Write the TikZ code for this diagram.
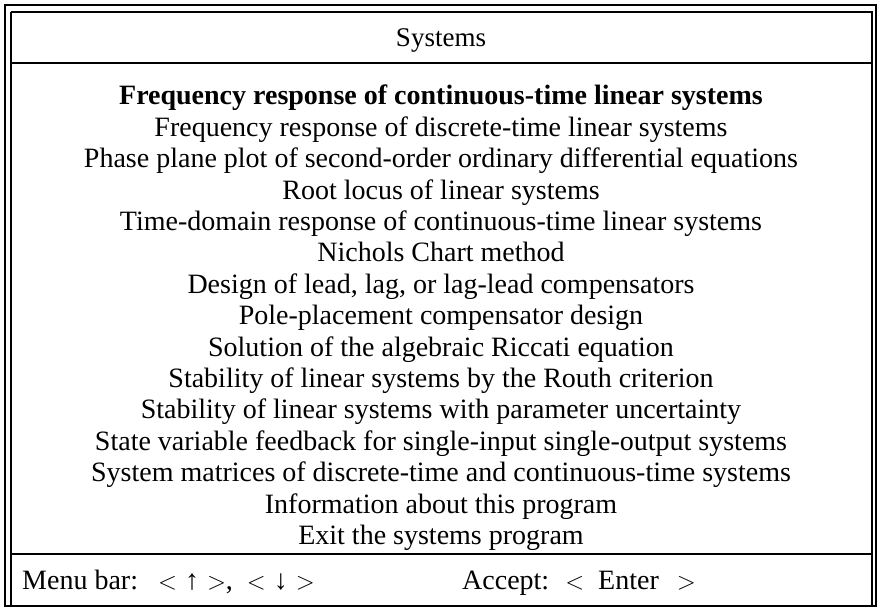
\documentclass[tikz,border=0pt]{standalone}
\usepackage{fontspec}
\setmainfont{Liberation Serif}
\begin{document}
\begin{tikzpicture}[x=1pt,y=-1pt,
  row/.style={anchor=base,inner sep=0pt,font=\fontsize{28}{30}\selectfont},
  frame/.style={draw=black,line width=1.3pt}]
\useasboundingbox (0,0) rectangle (879,609);
% frames
\draw[frame] (5,5) -- (876,5) -- (876,606) -- (5,606) -- cycle;
\draw[frame] (11,12) -- (872,12) -- (872,606);
\draw[frame] (11,12) -- (11,606);
\draw[frame] (11,63) -- (872,63);
\draw[frame] (11,554) -- (872,554);
% title
\node[row,font=\fontsize{27}{30}\selectfont] (title) at (441,47) {Systems};
% items
\node[row,font=\fontsize{28}{30}\selectfont\bfseries] (i1) at (441,105) {Frequency response of continuous-time linear systems};
\node[row] (i2) at (441,136.4) {Frequency response of discrete-time linear systems};
\node[row] (i3) at (441,167.8) {Phase plane plot of second-order ordinary differential equations};
\node[row] (i4) at (441,199.2) {Root locus of linear systems};
\node[row] (i5) at (441,230.6) {Time-domain response of continuous-time linear systems};
\node[row] (i6) at (441,262) {Nichols Chart method};
\node[row] (i7) at (441,293.4) {Design of lead, lag, or lag-lead compensators};
\node[row] (i8) at (441,324.8) {Pole-placement compensator design};
\node[row] (i9) at (441,356.2) {Solution of the algebraic Riccati equation};
\node[row] (i10) at (441,387.6) {Stability of linear systems by the Routh criterion};
\node[row] (i11) at (441,419) {Stability of linear systems with parameter uncertainty};
\node[row] (i12) at (441,450.4) {State variable feedback for single-input single-output systems};
\node[row] (i13) at (441,481.8) {System matrices of discrete-time and continuous-time systems};
\node[row] (i14) at (441,513.2) {Information about this program};
\node[row] (i15) at (441,544.6) {Exit the systems program};
% bottom bar
\node[row,anchor=base west] (menu) at (22,590) {Menu bar:\hspace{20pt}$<$\hspace{8pt}↑\hspace{8pt}$>$,\hspace{14pt}$<$\hspace{8pt}↓\hspace{8pt}$>$};
\node[row,anchor=base west] (accept) at (462,590) {Accept:\hspace{16pt}$<$\hspace{14pt}Enter\hspace{18pt}$>$};
\end{tikzpicture}
\end{document}
